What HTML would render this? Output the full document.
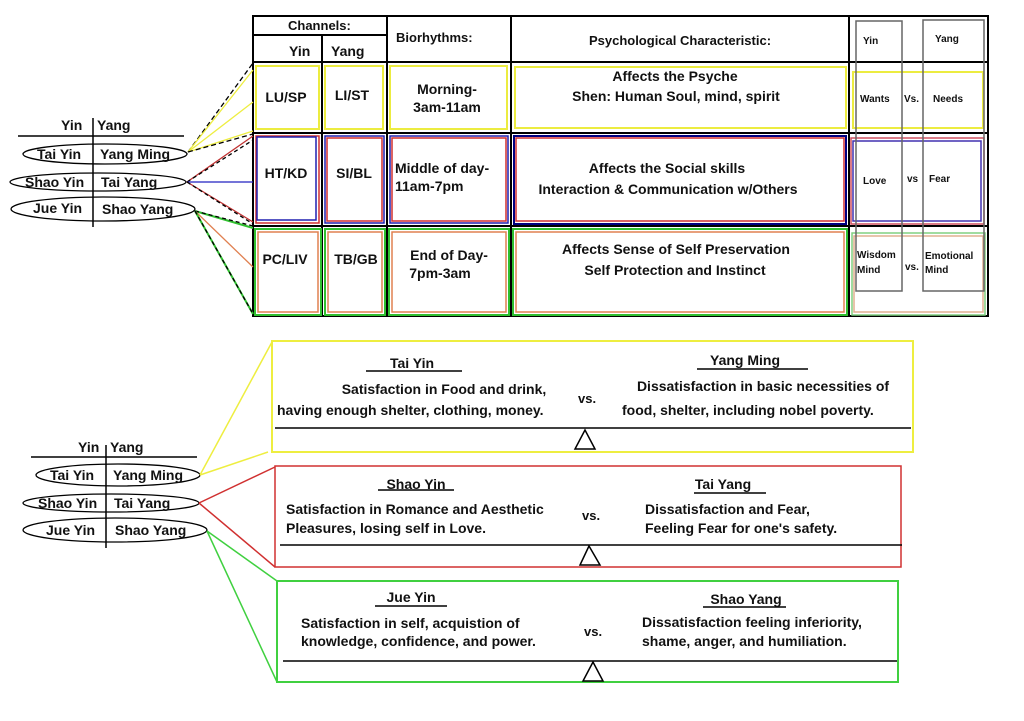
<!DOCTYPE html>
<html><head><meta charset="utf-8"><style>
html,body{margin:0;padding:0;background:#fff;}
svg{display:block;}
text{font-family:"Liberation Sans",sans-serif;font-weight:bold;fill:#111;}
</style></head><body>
<svg width="1024" height="721" viewBox="0 0 1024 721" xmlns="http://www.w3.org/2000/svg">
<rect width="1024" height="721" fill="#fff"/>
<!-- TOP TABLE -->
<g fill="none" stroke="#000" stroke-width="2">
<rect x="253" y="16" width="735" height="300"/>
<line x1="253" y1="35" x2="387" y2="35"/>
<line x1="322" y1="35" x2="322" y2="316"/>
<line x1="387" y1="16" x2="387" y2="316"/>
<line x1="511" y1="16" x2="511" y2="316"/>
<line x1="849" y1="16" x2="849" y2="316"/>
<line x1="253" y1="62" x2="988" y2="62"/>
<line x1="253" y1="133" x2="988" y2="133"/>
<line x1="253" y1="226" x2="988" y2="226"/>
</g>
<!-- row1 yellow -->
<g fill="none" stroke="#ecec40" stroke-width="2">
<rect x="256" y="66" width="63" height="63"/>
<rect x="325" y="66" width="58" height="63"/>
<rect x="390" y="66" width="117" height="63"/>
<rect x="515" y="67" width="331" height="61"/>
<rect x="853" y="72" width="130" height="56"/>
</g>
<!-- row2 blue/red -->
<g fill="none" stroke-width="1.5">
<rect x="256" y="136" width="63" height="87" stroke="#d03030"/>
<rect x="257" y="137" width="59" height="83" stroke="#2020b0"/>
<rect x="325" y="136" width="59" height="87" stroke="#2020b0"/>
<rect x="327" y="138" width="55" height="83" stroke="#d03030"/>
<rect x="390" y="136" width="118" height="87" stroke="#2020b0"/>
<rect x="392" y="138" width="114" height="83" stroke="#d03030"/>
<rect x="514" y="136" width="332" height="88" stroke="#000080" stroke-width="2"/>
<rect x="516" y="138" width="328" height="83" stroke="#d03030"/>
<rect x="851" y="138" width="133" height="86" stroke="#d05060"/>
<rect x="853" y="141" width="128" height="80" stroke="#4030b0"/>
</g>
<!-- row3 green/orange -->
<g fill="none" stroke-width="1.5">
<rect x="255" y="229" width="66" height="86" stroke="#30c030" stroke-width="2"/>
<rect x="258" y="232" width="60" height="80" stroke="#e08050"/>
<rect x="325" y="229" width="60" height="86" stroke="#30c030" stroke-width="2"/>
<rect x="328" y="232" width="54" height="80" stroke="#e08050"/>
<rect x="389" y="229" width="120" height="86" stroke="#30c030" stroke-width="2"/>
<rect x="392" y="232" width="114" height="80" stroke="#e08050"/>
<rect x="513" y="229" width="334" height="86" stroke="#30c030" stroke-width="2"/>
<rect x="516" y="232" width="328" height="80" stroke="#e08050"/>
<rect x="852" y="233" width="133" height="82" stroke="#80d080"/>
<rect x="854" y="236" width="129" height="76" stroke="#e0b090"/>
</g>
<!-- last col gray boxes -->
<g fill="none" stroke="#666" stroke-width="1.5">
<rect x="856" y="21" width="46" height="270"/>
<rect x="923" y="20" width="61" height="271"/>
</g>
<!-- header texts -->
<text x="288" y="30" font-size="13">Channels:</text>
<text x="289" y="56" font-size="14">Yin</text>
<text x="331" y="56" font-size="14">Yang</text>
<text x="396" y="42" font-size="13">Biorhythms:</text>
<text x="680" y="45" font-size="13" text-anchor="middle">Psychological Characteristic:</text>
<text x="863" y="44" font-size="10">Yin</text>
<text x="935" y="42" font-size="10">Yang</text>
<!-- row texts -->
<text x="286" y="102" font-size="14" text-anchor="middle">LU/SP</text>
<text x="352" y="100" font-size="14" text-anchor="middle">LI/ST</text>
<text x="447" y="94" font-size="14" text-anchor="middle">Morning-</text>
<text x="447" y="112" font-size="14" text-anchor="middle">3am-11am</text>
<text x="675" y="81" font-size="14" text-anchor="middle">Affects  the Psyche</text>
<text x="676" y="101" font-size="14" text-anchor="middle">Shen: Human Soul, mind, spirit</text>
<text x="860" y="102" font-size="10">Wants</text>
<text x="904" y="102" font-size="10">Vs.</text>
<text x="933" y="102" font-size="10">Needs</text>
<text x="286" y="178" font-size="14" text-anchor="middle">HT/KD</text>
<text x="354" y="178" font-size="14" text-anchor="middle">SI/BL</text>
<text x="395" y="173" font-size="14">Middle of day-</text>
<text x="395" y="191" font-size="14">11am-7pm</text>
<text x="667" y="173" font-size="14" text-anchor="middle">Affects the Social skills</text>
<text x="668" y="194" font-size="14" text-anchor="middle">Interaction &amp; Communication w/Others</text>
<text x="863" y="184" font-size="10">Love</text>
<text x="907" y="182" font-size="10">vs</text>
<text x="929" y="182" font-size="10">Fear</text>
<text x="285" y="264" font-size="14" text-anchor="middle">PC/LIV</text>
<text x="356" y="264" font-size="14" text-anchor="middle">TB/GB</text>
<text x="449" y="260" font-size="14" text-anchor="middle">End of Day-</text>
<text x="440" y="278" font-size="14" text-anchor="middle">7pm-3am</text>
<text x="676" y="254" font-size="14" text-anchor="middle">Affects  Sense of Self Preservation</text>
<text x="675" y="275" font-size="14" text-anchor="middle">Self Protection and Instinct</text>
<text x="857" y="258" font-size="10">Wisdom</text>
<text x="857" y="273" font-size="10">Mind</text>
<text x="905" y="270" font-size="10">vs.</text>
<text x="925" y="259" font-size="10">Emotional</text>
<text x="925" y="273" font-size="10">Mind</text>

<!-- top left legend -->
<text x="61" y="130" font-size="14">Yin</text>
<text x="97" y="130" font-size="14">Yang</text>
<line x1="18" y1="136" x2="184" y2="136" stroke="#000" stroke-width="1.5"/>
<line x1="93" y1="118" x2="93" y2="227" stroke="#000" stroke-width="1.5"/>
<g fill="none" stroke="#000" stroke-width="1.3">
<ellipse cx="105" cy="154" rx="82" ry="10"/>
<ellipse cx="98" cy="182" rx="88" ry="9"/>
<ellipse cx="103" cy="209" rx="92" ry="12"/>
</g>
<text x="37" y="159" font-size="14">Tai Yin</text>
<text x="100" y="159" font-size="14">Yang Ming</text>
<text x="25" y="187" font-size="14">Shao Yin</text>
<text x="101" y="187" font-size="14">Tai Yang</text>
<text x="33" y="213" font-size="14">Jue Yin</text>
<text x="102" y="214" font-size="14">Shao Yang</text>
<!-- top connectors -->
<g fill="none" stroke-width="1.3">
<line x1="188" y1="152" x2="253" y2="63" stroke="#000" stroke-dasharray="5,3"/>
<line x1="188" y1="152" x2="253" y2="102" stroke="#eeee40"/>
<line x1="188" y1="152" x2="253" y2="70" stroke="#eeee40"/>
<line x1="188" y1="152" x2="253" y2="131" stroke="#eeee40"/>
<line x1="188" y1="152" x2="253" y2="134" stroke="#000" stroke-dasharray="5,3"/>
<line x1="187" y1="182" x2="253" y2="136" stroke="#c03030"/>
<line x1="187" y1="182" x2="253" y2="140" stroke="#000" stroke-dasharray="4,3"/>
<line x1="187" y1="182" x2="253" y2="182" stroke="#2020c0"/>
<line x1="187" y1="182" x2="253" y2="222" stroke="#c03030"/>
<line x1="187" y1="182" x2="253" y2="224" stroke="#000" stroke-dasharray="4,3"/>
<line x1="195" y1="211" x2="253" y2="228" stroke="#30c030" stroke-width="2"/>
<line x1="195" y1="211" x2="253" y2="226" stroke="#000" stroke-dasharray="4,3"/>
<line x1="195" y1="211" x2="253" y2="267" stroke="#e08050"/>
<line x1="195" y1="211" x2="253" y2="314" stroke="#30c030" stroke-width="2"/>
<line x1="195" y1="211" x2="253" y2="314" stroke="#000" stroke-dasharray="4,3"/>
</g>

<!-- BOTTOM -->
<text x="78" y="452" font-size="14">Yin</text>
<text x="110" y="452" font-size="14">Yang</text>
<line x1="31" y1="457" x2="197" y2="457" stroke="#000" stroke-width="1.5"/>
<line x1="106" y1="445" x2="106" y2="548" stroke="#000" stroke-width="1.5"/>
<g fill="none" stroke="#000" stroke-width="1.3">
<ellipse cx="118" cy="475" rx="82" ry="11"/>
<ellipse cx="111" cy="503" rx="88" ry="9"/>
<ellipse cx="115" cy="530" rx="92" ry="12"/>
</g>
<text x="50" y="480" font-size="14">Tai Yin</text>
<text x="113" y="480" font-size="14">Yang Ming</text>
<text x="38" y="508" font-size="14">Shao Yin</text>
<text x="114" y="508" font-size="14">Tai Yang</text>
<text x="46" y="535" font-size="14">Jue Yin</text>
<text x="115" y="535" font-size="14">Shao Yang</text>
<g fill="none" stroke-width="1.5">
<line x1="200" y1="475" x2="272" y2="342" stroke="#eeee40"/>
<line x1="200" y1="475" x2="268" y2="452" stroke="#eeee40"/>
<line x1="199" y1="503" x2="275" y2="467" stroke="#d03030"/>
<line x1="199" y1="503" x2="275" y2="567" stroke="#d03030"/>
<line x1="207" y1="531" x2="277" y2="581" stroke="#40d040"/>
<line x1="207" y1="531" x2="277" y2="682" stroke="#40d040"/>
<rect x="272" y="341" width="641" height="111" stroke="#eeee40" stroke-width="2"/>
<rect x="275" y="466" width="626" height="101" stroke="#d03030"/>
<rect x="277" y="581" width="621" height="101" stroke="#40d040" stroke-width="2"/>
</g>
<g stroke="#000" stroke-width="1.5" fill="#fff">
<line x1="275" y1="428" x2="911" y2="428"/>
<polygon points="585,430 575,449 595,449"/>
<line x1="280" y1="545" x2="902" y2="545"/>
<polygon points="589,546 580,565 600,565"/>
<line x1="283" y1="661" x2="897" y2="661"/>
<polygon points="593,662 583,681 603,681"/>
<line x1="366" y1="371" x2="462" y2="371"/>
<line x1="697" y1="369" x2="808" y2="369"/>
<line x1="378" y1="490" x2="454" y2="490"/>
<line x1="694" y1="493" x2="766" y2="493"/>
<line x1="375" y1="606" x2="447" y2="606"/>
<line x1="703" y1="607" x2="786" y2="607"/>
</g>
<text x="412" y="368" font-size="14" text-anchor="middle">Tai Yin</text>
<text x="745" y="365" font-size="14" text-anchor="middle">Yang Ming</text>
<text x="444" y="394" font-size="14" text-anchor="middle">Satisfaction in Food and drink,</text>
<text x="277" y="415" font-size="14">having enough shelter, clothing, money.</text>
<text x="578" y="403" font-size="13">vs.</text>
<text x="763" y="391" font-size="14" text-anchor="middle">Dissatisfaction in basic necessities of</text>
<text x="622" y="415" font-size="14">food, shelter, including nobel poverty.</text>
<text x="416" y="489" font-size="14" text-anchor="middle">Shao Yin</text>
<text x="723" y="489" font-size="14" text-anchor="middle">Tai Yang</text>
<text x="286" y="514" font-size="14">Satisfaction in Romance and Aesthetic</text>
<text x="286" y="533" font-size="14">Pleasures, losing self in Love.</text>
<text x="582" y="520" font-size="13">vs.</text>
<text x="645" y="514" font-size="14">Dissatisfaction and Fear,</text>
<text x="645" y="533" font-size="14">Feeling Fear for one's safety.</text>
<text x="411" y="602" font-size="14" text-anchor="middle">Jue Yin</text>
<text x="746" y="604" font-size="14" text-anchor="middle">Shao Yang</text>
<text x="301" y="628" font-size="14">Satisfaction in self, acquistion of</text>
<text x="301" y="646" font-size="14">knowledge, confidence, and power.</text>
<text x="584" y="636" font-size="13">vs.</text>
<text x="642" y="627" font-size="14">Dissatisfaction feeling inferiority,</text>
<text x="642" y="646" font-size="14">shame, anger, and humiliation.</text>
</svg>
</body></html>
